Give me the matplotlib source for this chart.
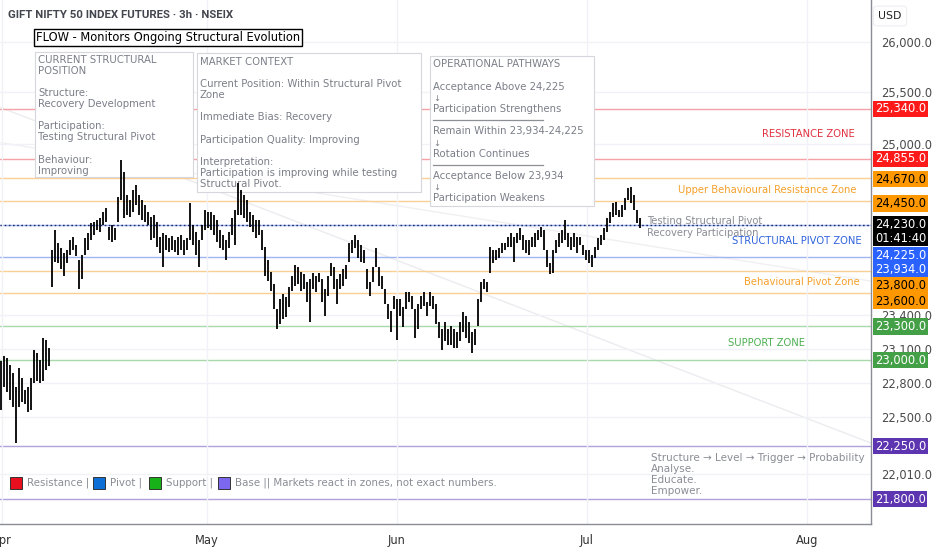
import matplotlib
matplotlib.use('Agg')
import matplotlib.pyplot as plt
from matplotlib.patches import Rectangle
from matplotlib.lines import Line2D
from matplotlib.ticker import FixedLocator, FixedFormatter, NullLocator, NullFormatter
from matplotlib.transforms import blended_transform_factory, offset_copy

# ---------------- data ----------------
bar_high = [
    22990, 23035, 23018, 22955, 22887, 22760, 22931, 22844, 22732, 22758, 22844, 23090, 23061, 23000, 23192, 23175, 23105,
    24000, 24183, 24063, 24017, 23971, 23999, 24091, 24118, 24044, 23907, 23953, 24109, 24155, 24248, 24257, 24276,
    24295, 24350, 24388, 24210, 24229, 24201, 24492, 24844, 24728, 24511, 24463, 24557, 24606, 24511, 24463, 24416,
    24350, 24303, 24322, 24257, 24118, 24155, 24136, 24109, 24127, 24091, 24118, 24136, 24091, 24109, 24435, 24229,
    24164, 24091, 24229, 24369, 24350, 24350, 24322, 24276, 24183, 24136, 24091, 24164, 24295, 24369, 24625, 24557,
    24511, 24463, 24350, 24322, 24276, 24276, 24183, 24026, 23907, 23798, 23681, 23457, 23546, 23591, 23564, 23654,
    23753, 23862, 23835, 23798, 23771, 23699, 23726, 23789, 23753, 23789, 23726, 23636, 23753, 23880, 23835, 23726,
    23771, 23817, 23862, 24063, 24091, 24136, 24091, 24044, 23999, 23817, 23699, 23844, 24017, 23835, 23753, 23636,
    23502, 23440, 23573, 23546, 23546, 23475, 23609, 23609, 23573, 23457, 23502, 23573, 23609, 23520, 23609, 23573,
    23502, 23343, 23280, 23343, 23280, 23307, 23280, 23254, 23343, 23431, 23396, 23343, 23254, 23280, 23546, 23699,
    23726, 23699,
    24026, 23999, 23999, 24017, 24063, 24063, 24118, 24155, 24118, 24155, 24201, 24136, 24091, 24091, 24118, 24155,
    24183, 24210, 24183, 23999, 23880, 23999, 24091, 24155, 24183, 24276, 24155, 24118, 24155, 24118, 24118, 24044,
    23999, 23999, 23953, 24026, 24109, 24136, 24201, 24295, 24350, 24435, 24444, 24369, 24416, 24482, 24576, 24586,
    24511, 24369, 24295,
]
bar_low = [
    22560, 22760, 22715, 22645, 22587, 22275, 22587, 22630, 22613, 22544, 22561, 22800, 22818, 22800, 22818, 22914, 22948,
    23655, 23890, 23880, 23817, 23753, 23880, 23953, 23999, 23944, 23636, 23726, 23953, 23999, 24091, 24136, 24183,
    24164, 24229, 24257, 24091, 24072, 24091, 24257, 24463, 24295, 24322, 24303, 24350, 24416, 24322, 24276, 24257,
    24229, 24091, 24109, 24026, 23971, 23835, 23999, 23981, 23999, 23981, 23953, 23999, 23953, 23999, 24091, 24044,
    23953, 23835, 24091, 24183, 24201, 24183, 24136, 24072, 24017, 23999, 23907, 24017, 24136, 24044, 24322, 24322,
    24295, 24257, 24210, 24164, 24109, 24136, 23999, 23753, 23708, 23618, 23457, 23280, 23325, 23369, 23387, 23475,
    23618, 23663, 23681, 23618, 23636, 23520, 23343, 23636, 23609, 23699, 23520, 23396, 23573, 23753, 23636, 23502,
    23636, 23663, 23726, 23889, 23971, 24017, 23926, 23889, 23880, 23636, 23573, 23699, 23844, 23663, 23636, 23502,
    23369, 23254, 23457, 23175, 23396, 23298, 23457, 23520, 23457, 23192, 23280, 23457, 23484, 23396, 23484, 23457,
    23325, 23192, 23088, 23166, 23131, 23131, 23105, 23105, 23166, 23254, 23192, 23148, 23061, 23131, 23307, 23520,
    23636, 23609,
    23789, 23880, 23907, 23926, 23971, 23999, 24026, 24026, 23889, 24063, 24091, 23999, 23971, 23953, 24026, 24026,
    24091, 24118, 23999, 23835, 23771, 23789, 23971, 24026, 24063, 24091, 24026, 23999, 24026, 23971, 24044, 23953,
    23907, 23880, 23835, 23926, 23999, 24044, 24091, 24164, 24248, 24303, 24322, 24303, 24303, 24369, 24463, 24435,
    24369, 24248, 24201,
]

month_labels = ['Apr', 'May', 'Jun', 'Jul', 'Aug']
month_pos = [0.3, 68.7, 132.0, 195.3, 268.7]

price_ticks = [26000, 25500, 25000, 23400, 23100, 22800, 22500, 22010]
price_tick_labels = ['26,000.0', '25,500.0', '25,000.0', '23,400.0', '23,100.0', '22,800.0', '22,500.0', '22,010.0']

level_values = [25340, 24855, 24670, 24450, 24225, 23934, 23800, 23600, 23300, 23000, 22250, 21800]
level_kinds = ['res', 'res', 'beh', 'beh', 'piv', 'piv', 'beh', 'beh', 'sup', 'sup', 'base', 'base']
label_shift_px = [0, 0, 1, 2, 30, 13, 14, 8, 0, 0, 0, 0]

current_price = 24230
countdown = '01:41:40'

zones = [
    ('RESISTANCE ZONE', 25340, 24855, 'res', 855),
    ('Upper Behavioural Resistance Zone', 24670, 24450, 'beh', 856),
    ('STRUCTURAL PIVOT ZONE', 24225, 23934, 'piv', 862),
    ('Behavioural Pivot Zone', 23800, 23600, 'beh', 860),
    ('SUPPORT ZONE', 23300, 23000, 'sup', 803),
]

trend_x = [0, 290]
trend_a = [25350, 22275]
trend_b = [25010, 23710]

# ---------------- styles ----------------
line_col = {'res': '#f6a1a6', 'beh': '#f9cf93', 'piv': '#9fb6f2', 'sup': '#a9d8ab', 'base': '#b0a3dc'}
box_col = {'res': '#ff1a1a', 'beh': '#ff9800', 'piv': '#2962ff', 'sup': '#43a047', 'base': '#5e35b1'}
box_txt = {'res': 'white', 'beh': 'black', 'piv': 'white', 'sup': 'white', 'base': 'white'}
zone_txt = {'res': '#e0303f', 'beh': '#f5a02a', 'piv': '#2f62dc', 'sup': '#4caf50'}
GREY = '#7b7e88'

W, H = 932, 550
fig = plt.figure(figsize=(W / 100, H / 100), dpi=100)
fig.patch.set_facecolor('white')
ax = fig.add_axes([0, 1 - 524 / H, 871 / W, 524 / H])
ax.set_facecolor('white')

def fx(x):
    return x / W

def fy(y):
    return 1 - y / H

ax.set_yscale('log')
ax.set_ylim(21591, 26424)
ax.set_xlim(-0.3, 290.0)

# grid & ticks
ax.yaxis.set_major_locator(FixedLocator(price_ticks))
ax.yaxis.set_major_formatter(FixedFormatter(price_tick_labels))
ax.yaxis.set_minor_locator(NullLocator())
ax.yaxis.set_minor_formatter(NullFormatter())
ax.yaxis.tick_right()
ax.set_xticks(month_pos)
ax.set_xticklabels(month_labels)
ax.tick_params(axis='y', length=0, pad=7, labelsize=8.3, labelcolor='#4a4a4a')
ax.tick_params(axis='x', length=0, pad=7, labelsize=8.3, labelcolor='#333333')
ax.grid(True, color='#f0f2f7', lw=1, zorder=0)
for s in ['left', 'top']:
    ax.spines[s].set_visible(False)
for s in ['right', 'bottom']:
    ax.spines[s].set_color('#8a8d95')
    ax.spines[s].set_linewidth(1)

# faint diagonal lines
ax.plot(trend_x, trend_a, color='#ececf0', lw=1, zorder=0.5)
ax.plot(trend_x, trend_b, color='#f0f0f3', lw=1, zorder=0.5)

# horizontal levels
for v, k in zip(level_values, level_kinds):
    ax.axhline(v, color=line_col[k], lw=1, zorder=1)
ax.axhline(current_price, color='#1c2a6b', lw=1, ls=(0, (1.2, 1.8)), zorder=1.2)

# zone labels
for name, a, b, k, xr in zones:
    ym = (a * b) ** 0.5
    ha = 'center' if k == 'sup' else 'right'
    xx = (766 if k == 'sup' else xr) / 871
    ax.text(xx, ym, name, transform=blended_transform_factory(ax.transAxes, ax.transData),
            ha=ha, va='center', color=zone_txt[k], fontsize=7.2, zorder=2)

# text boxes (drawn in axes so candles sit on top)
def box(x0, y0, x1, y1, ec='#d5d7dc', lw=0.8, fc='white'):
    ax.add_patch(Rectangle((fx(x0), fy(y1)), fx(x1) - fx(x0), fy(y0) - fy(y1),
                           transform=fig.transFigure, facecolor=fc, edgecolor=ec, lw=lw, zorder=2, clip_on=False))

def t(x, y, s, size=7.3, color=GREY, **kw):
    ax.text(fx(x), fy(y), s, transform=fig.transFigure, fontsize=size, color=color,
            va='center', ha=kw.pop('ha', 'left'), zorder=2.5, clip_on=False, **kw)

box(35, 52, 193, 177)
for y, s in [(60, 'CURRENT STRUCTURAL'), (71, 'POSITION'), (93, 'Structure:'), (104, 'Recovery Development'),
             (126, 'Participation:'), (137, 'Testing Structural Pivot'), (160, 'Behaviour:'), (171, 'Improving')]:
    t(38, y, s)

box(197, 53, 421, 192)
for y, s in [(62, 'MARKET CONTEXT'), (84, 'Current Position: Within Structural Pivot'), (95, 'Zone'),
             (117, 'Immediate Bias: Recovery'), (140, 'Participation Quality: Improving'),
             (162, 'Interpretation:'), (173, 'Participation is improving while testing'), (184, 'Structural Pivot.')]:
    t(200, y, s)

box(430, 56, 594, 206)
for y, s in [(64, 'OPERATIONAL PATHWAYS'), (87, 'Acceptance Above 24,225'), (109, 'Participation Strengthens'),
             (131, 'Remain Within 23,934-24,225'), (154, 'Rotation Continues'),
             (176, 'Acceptance Below 23,934'), (198, 'Participation Weakens')]:
    t(433, y, s)
for y in [99, 143, 188]:
    t(433, y, '↓', size=6)
for y in [120, 165]:
    ax.add_line(Line2D([fx(433), fx(543)], [fy(y), fy(y)], transform=fig.transFigure,
                       color='#8c8f96', lw=0.9, zorder=2.5))

# title box
ax.text(fx(36), fy(37.5), 'FLOW - Monitors Ongoing Structural Evolution', transform=fig.transFigure,
        fontsize=8.3, color='black', va='center', ha='left', zorder=3, clip_on=False,
        bbox=dict(boxstyle='square,pad=0.2', facecolor='white', edgecolor='black', lw=1))

fig.text(fx(8), fy(15), 'GIFT NIFTY 50 INDEX FUTURES · 3h · NSEIX', fontsize=8.2, color='#43464e',
         va='center', ha='left', fontweight='bold', family=['Roboto', 'DejaVu Sans'])

# candles (high-low bars)
xs = list(range(len(bar_high)))
ax.vlines(xs, bar_low, bar_high, color='black', lw=1.3, zorder=3)

# annotations near last bar
t(647, 221, 'Testing Structural Pivot', size=7.2, color='#8a8d95')
t(647, 233, 'Recovery Participation', size=7.2, color='#8a8d95')

# bottom-right philosophy text
for y, s in [(458, 'Structure → Level → Trigger → Probability'), (469, 'Analyse.'), (480, 'Educate.'), (491, 'Empower.')]:
    t(651, y, s, size=7.5, color='#8a8d95')

# legend
leg = [(10, '#e8101f', 'Resistance |'), (93, '#0e6fd6', 'Pivot |'), (149, '#17b217', 'Support |'),
       (218, '#7b68ee', 'Base || Markets react in zones, not exact numbers.')]
for x, c, s in leg:
    ax.add_patch(Rectangle((fx(x), fy(489)), fx(12), 12 / H, transform=fig.transFigure,
                           facecolor=c, edgecolor='#333333', lw=0.7, zorder=2.5, clip_on=False))
    t(x + 17, 483, s, size=7.35, color='#8a8d95')

# right axis price labels
bt = blended_transform_factory(fig.transFigure, ax.transData)
for v, k, sh in zip(level_values, level_kinds, label_shift_px):
    tr = offset_copy(bt, fig=fig, y=-sh * 0.72, units='points')
    fig.text(fx(875), v, f'{v:,.1f}', transform=tr, fontsize=8.3, color=box_txt[k], va='center', ha='left',
             bbox=dict(boxstyle='square,pad=0.14', facecolor=box_col[k], edgecolor='none'), zorder=5)
tr = offset_copy(bt, fig=fig, y=-6.5 * 0.72, units='points')
fig.text(fx(875), current_price, f'{current_price:,.1f}\n{countdown}', transform=tr, fontsize=8.3, color='white',
         va='center', ha='left', linespacing=1.05,
         bbox=dict(boxstyle='square,pad=0.14', facecolor='black', edgecolor='none'), zorder=6)

# USD
fig.text(fx(890), fy(16), 'USD', fontsize=7.8, color='#222222', va='center', ha='center',
         bbox=dict(boxstyle='round,pad=0.45,rounding_size=0.3', facecolor='white', edgecolor='#eceef2', lw=0.8))

fig.savefig('out.png', dpi=100, facecolor='white')
